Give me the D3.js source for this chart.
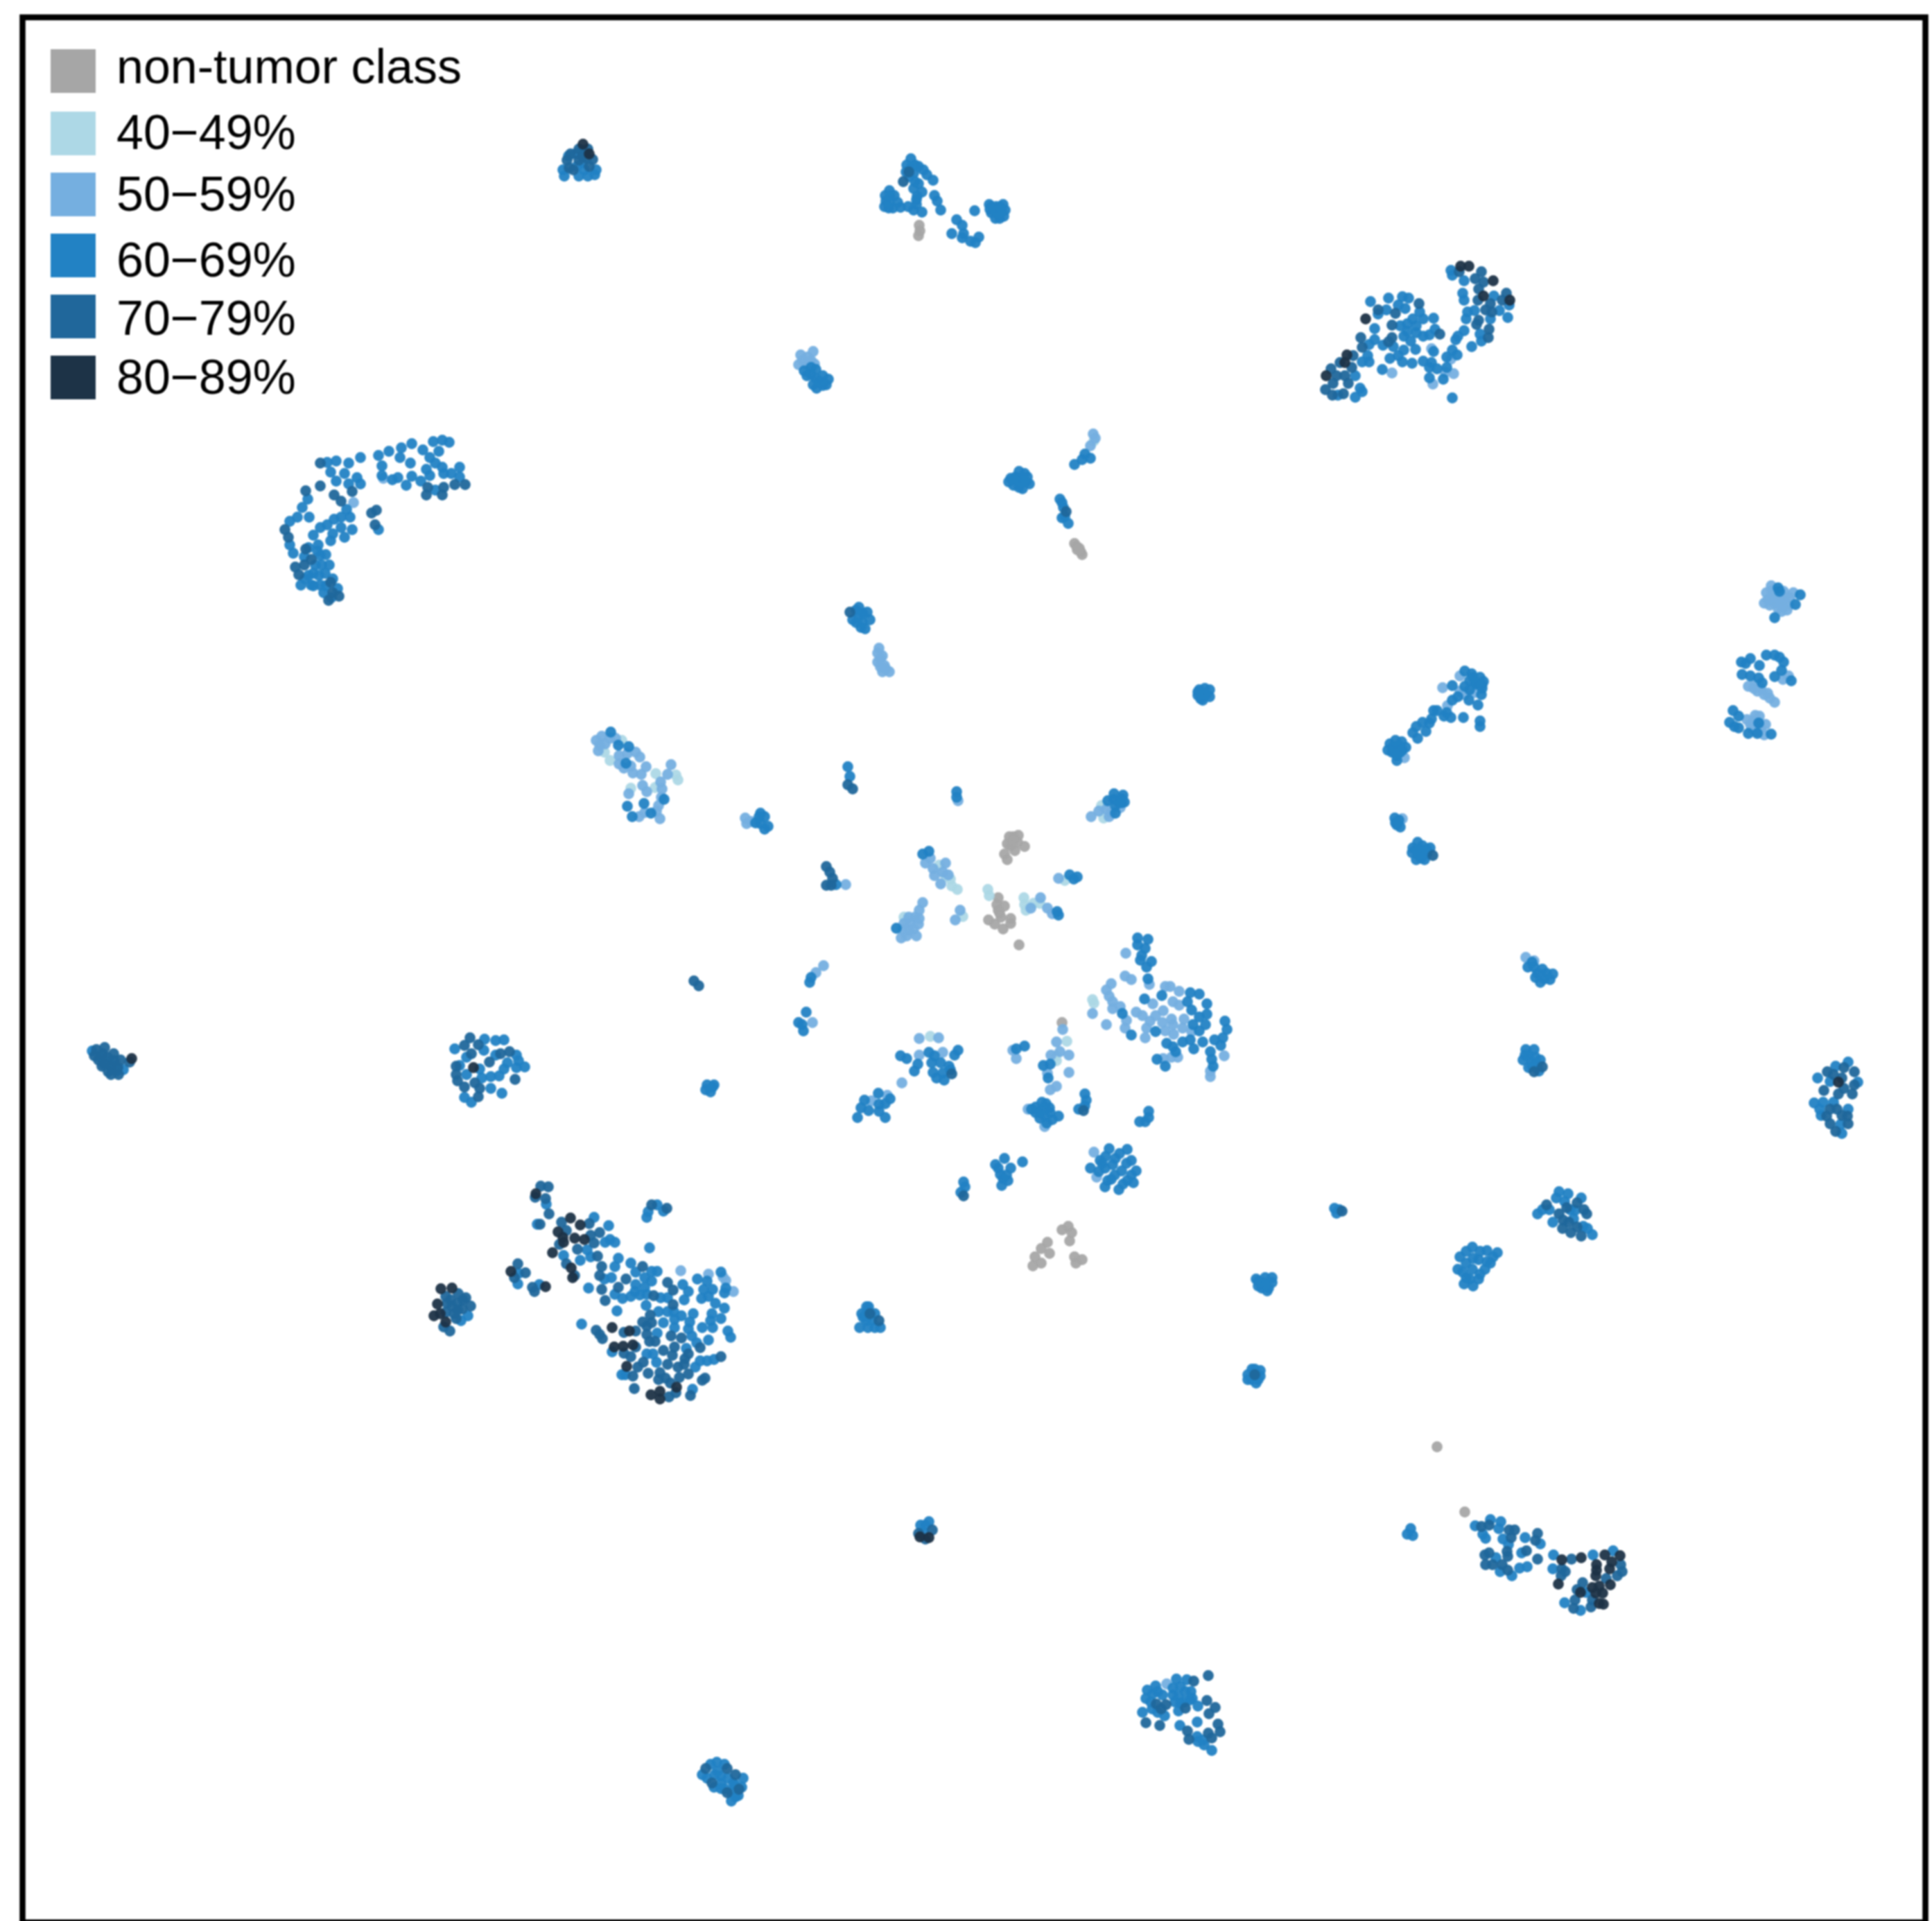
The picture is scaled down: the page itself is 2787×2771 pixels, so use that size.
<!DOCTYPE html>
<html><head><meta charset="utf-8">
<script src="https://cdn.jsdelivr.net/npm/d3@7"></script>
<style>html,body{margin:0;padding:0;background:#fff}svg{display:block}</style>
</head><body><div id="chart"></div>
<script>
const legendLabels=["non-tumor class","40−49%","50−59%","60−69%","70−79%","80−89%"];
const legendColors=["#a6a6a6","#add8e6","#75afe0","#2282c4","#20679b","#1d3347"];

const nonTumor=[[1326,325],[1327,333],[1325,340],[1550,784],[1557,791],[1561,800],[1554,793],[1553,788],[1559,796],
[1462,1207],[1456,1207],[1469,1205],[1462,1213],[1453,1217],[1478,1221],[1464,1227],[1449,1232],[1453,1240],[1458,1220],[1468,1215],
[1440,1295],[1438,1305],[1449,1307],[1440,1313],[1426,1327],[1435,1333],[1447,1340],[1458,1325],[1458,1332],[1444,1323],[1470,1363],[1442,1317],
[1532,1475],[2113,2181],[2073,2087],
[1541,1769],[1532,1774],[1546,1778],[1543,1790],[1511,1792],[1502,1801],[1514,1808],[1493,1813],[1490,1826],[1502,1822],[1550,1813],[1561,1817],[1552,1822]];

const pct40=[[897,1068],[872,1085],[880,1097],[946,1116],[975,1118],[978,1125],[945,1136],[910,1137],
[1589,1162],[1592,1180],[1355,1248],[1371,1268],[1373,1278],[1381,1283],[1364,1263],[1425,1283],[1427,1292],[1536,1270],
[1477,1295],[1478,1305],[1491,1303],[1500,1303],[1480,1313],[1389,1322],[1304,1323],[1576,1442],[1578,1447],[1342,1495],[1539,1502],[1523,1523],[1524,1530],[1578,636]];

const pct50=[[982,1833],[1022,1838],[1047,1847],[1058,1863],[1043,1842],
[2065,503],[2093,518],[2085,537],[2097,539],[2008,538],[2067,554],
[510,725],[553,690],
[1683,2429],[1155,512],[1164,526],[1173,507],[1152,526],[1165,515],[1158,520],[1170,520],[1175,525],[1577,626],[1573,643],[1580,632],
[1266,942],[1273,946],[1276,960],[1266,955],[1283,969],[1273,969],[1270,950],[1278,965],[1270,962],[1268,935],
[2106,975],[2081,992],[2106,997],[2113,1002],[2127,999],[2088,1018],[2026,1093],[2023,1181],
[2555,845],[2548,855],[2557,860],[2545,870],[2553,873],[2567,870],[2573,853],[2582,862],[2580,873],[2570,882],[2563,862],[2587,855],[2560,870],[2572,868],[2550,865],[2565,878],[2575,862],[2556,852],[2578,880],
[2522,990],[2532,988],[2535,997],[2545,1002],[2553,1007],[2560,1013],[2572,980],[2580,975],[2540,993],[2530,993],[2550,1000],
[2520,1038],[2532,1032],[2538,1033],[2527,1050],[2547,1045],[2545,1060],[2525,1045],[2540,1050],[2530,1040],[2533,1055],
[860,1068],[868,1062],[865,1075],[873,1073],[880,1065],[888,1065],[863,1083],[893,1090],[905,1087],[917,1085],[923,1092],[893,1102],[900,1108],[910,1105],[913,1115],[925,1117],[932,1106],[968,1103],[963,1117],[953,1128],[927,1133],[933,1142],[907,1145],[954,1150],[950,1162],[947,1170],[952,1181],[922,1178],[930,1172],[955,1138],[1075,1180],[1077,1188],[1083,1185],
[1382,1155],[1574,1178],[1585,1170],[1600,1178],[1596,1167],[1616,1165],[1603,1172],
[1342,1238],[1335,1245],[1346,1253],[1364,1245],[1348,1263],[1360,1258],[1357,1275],[1368,1262],[1527,1267],
[1501,1295],[1487,1310],[1511,1310],[1518,1318],[1385,1313],[1378,1327],
[1331,1302],[1326,1313],[1320,1323],[1313,1332],[1325,1333],[1302,1340],[1322,1350],[1300,1353],[1311,1342],[1304,1332],[1318,1340],[1311,1323],[1326,1325],[1308,1350],
[1188,1393],[1177,1403],[1172,1475],[1220,1276],
[1624,1375],[1623,1408],[1632,1413],[1658,1420],[1603,1419],[1596,1428],[1681,1423],[1688,1423],[1701,1430],[1600,1437],[1605,1445],[1605,1455],[1616,1452],[1576,1462],[1596,1478],[1663,1448],[1692,1445],[1701,1450],[1639,1460],[1648,1465],[1678,1458],[1667,1465],[1690,1470],[1659,1473],[1677,1475],[1708,1470],[1692,1478],[1654,1483],[1681,1487],[1706,1483],[1719,1488],[1652,1497],[1693,1492],[1623,1483],[1625,1472],[1699,1525],[1690,1525],[1678,1527],[1766,1523],[1746,1545],[1746,1553],
[1326,1498],[1354,1497],[1326,1522],[1360,1518],[1301,1562],[1257,1588],[1280,1580],[1466,1527],[1461,1515],
[1533,1485],[1524,1503],[1516,1522],[1542,1522],[1529,1517],[1542,1547],[1511,1548],[1515,1572],[1524,1567],[1483,1600],[1507,1625],
[1578,1662],[1582,1698],[2201,1381],[2213,1386]];

const pct60=[[788,1737],[775,1766],[857,1756],[878,1768],[880,1788],[873,1792],[887,1792],[847,1803],[852,1813],[837,1818],[813,1811],[748,1837],[747,1852],[778,1853],[935,1748],[933,1756],[948,1738],[957,1747],[937,1800],[892,1815],[887,1827],[910,1822],[917,1835],[948,1834],[940,1834],[882,1843],[872,1845],[930,1843],[940,1848],[917,1853],[916,1863],[930,1857],[887,1867],[898,1873],[910,1870],[923,1868],[933,1867],[953,1872],[963,1872],[932,1883],[890,1891],[950,1892],[849,1858],[839,1910],[957,1908],[948,1923],[985,1853],[993,1863],[987,1875],[1006,1845],[1020,1848],[1015,1860],[1028,1860],[1012,1873],[1022,1870],[1032,1880],[1045,1887],[1047,1858],[1045,1865],[1040,1835],[972,1892],[963,1892],[983,1898],[1000,1895],[973,1903],[995,1907],[973,1915],[993,1917],[1027,1895],[1040,1902],[1025,1905],[1028,1915],[1013,1915],[998,1927],[1005,1937],[1022,1933],[1050,1920],[1054,1929],[990,1945],[933,1953],[942,1953],[947,1965],[902,1983],[897,1983],[883,1950],[1003,1972],[1010,1963],[1020,1963],[1030,1961],[999,2004],
[2093,390],[2095,397],[2112,405],[2110,423],[2112,433],[2155,427],[2177,440],[2163,448],[2175,458],[2150,460],[2117,450],[2127,448],[2115,460],[2112,477],[2103,485],[2100,490],[2135,482],[2137,492],[2123,500],[1977,435],[2003,430],[2023,428],[2032,430],[1988,453],[2000,447],[2017,440],[2027,445],[2048,450],[2038,460],[2053,460],[2068,459],[2030,467],[2043,470],[2020,470],[2030,478],[2043,480],[1983,474],[2025,485],[2035,492],[2053,485],[2062,483],[2070,475],[1983,490],[1975,497],[1995,498],[2010,500],[2042,504],[2025,505],[2017,513],[2005,517],[2023,522],[2037,524],[1973,513],[1975,522],[1965,522],[1994,533],[2053,521],[2065,523],[2068,507],[2062,530],[2073,532],[2095,505],[2102,512],[2087,515],[2087,530],[2062,545],[2082,547],[2095,574],[1955,542],[1962,560],[1955,573],[1930,570],[1965,565],
[546,657],[561,651],[579,646],[594,640],[610,649],[625,637],[638,635],[648,638],[551,672],[551,686],[592,668],[577,660],[633,651],[620,660],[628,668],[615,677],[638,674],[566,692],[574,689],[586,700],[594,687],[607,694],[620,686],[640,683],[651,683],[663,674],[663,688],[628,707],
[472,667],[485,665],[503,668],[520,660],[477,681],[497,683],[515,689],[520,698],[485,694],[503,698],[444,720],[500,735],[546,764],[436,732],[429,746],[418,752],[446,746],[482,749],[492,746],[505,746],[462,761],[472,757],[452,772],[508,764],[492,761],[480,770],[497,775],[477,780],[418,786],[459,786],[423,798],[462,801],[439,803],[464,815],[452,827],[469,827],[434,844],[449,844],[467,855],[487,849],[462,844],
[445,790],[455,815],[440,835],[470,800],[452,845],[460,830],[478,862],[445,830],[470,845],[458,795],[480,835],[475,815],
[2128,2201],[2150,2192],[2165,2195],[2162,2205],[2139,2213],[2143,2219],[2168,2220],[2176,2228],[2200,2218],[2222,2227],[2195,2240],[2158,2247],[2192,2262],[2203,2260],[2181,2273],[2164,2267],[2241,2243],[2327,2237],[2298,2243],[2257,2312],[2240,2263],[2288,2297],[2280,2323],
[656,1513],[699,1499],[715,1501],[727,1500],[698,1515],[715,1522],[745,1522],[748,1530],[757,1539],[745,1540],[732,1533],[727,1542],[720,1552],[708,1553],[695,1555],[692,1542],[673,1525],[663,1537],[673,1550],[708,1570],[724,1577],[680,1590],[670,1583],
[1697,2422],[1712,2423],[1667,2432],[1655,2438],[1653,2450],[1663,2443],[1677,2445],[1692,2435],[1703,2433],[1718,2440],[1700,2447],[1717,2452],[1703,2457],[1728,2461],[1700,2468],[1648,2470],[1662,2465],[1680,2475],[1702,2489],[1727,2484],[1728,2512],[1737,2517],[1748,2525],[1727,2505],[1692,2445],[1670,2440],[1660,2455],[1710,2440],[1695,2455],[1708,2455],[1670,2470],[1720,2450],[1735,2510],
[1314,229],[1308,238],[1320,238],[1307,248],[1318,250],[1332,245],[1337,252],[1346,260],[1320,262],[1318,272],[1330,277],[1323,283],[1322,295],[1318,303],[1330,306],[1283,275],[1277,282],[1290,282],[1283,292],[1276,298],[1288,300],[1299,299],[1348,282],[1352,290],[1357,303],[1406,304],[1380,317],[1388,325],[1373,337],[1390,337],[1388,343],[1400,348],[1412,342],[1407,350],[1427,295],[1447,295],[1437,298],[1430,307],[1450,303],[1442,315],[1448,312],[1437,307],
[1438,305],[1430,298],[1445,305],[1436,315],[1428,302],[1443,298],[1284,282],[1282,300],[1295,292],[1278,290],[1322,288],[1310,298],[1325,265],[1312,255],[1325,240],[1315,240],
[814,254],[835,254],[858,252],[848,254],[839,217],[820,225],[832,240],[843,245],[812,245],[860,245],[840,235],[830,222],
[1164,542],[1177,533],[1187,542],[1173,555],[1187,556],[1195,547],[1177,546],[1170,530],[1170,540],[1182,550],[1160,535],[1178,560],[1192,555],
[1458,690],[1470,680],[1482,688],[1462,700],[1475,705],[1485,698],[1470,693],[1465,688],[1475,695],[1455,695],[1480,695],[1470,703],[1462,692],[1478,683],
[1561,663],[1550,670],[1573,661],[1565,655],[1529,720],[1534,732],[1532,747],[1541,755],[1532,725],[1536,745],
[1239,876],[1251,883],[1230,894],[1244,898],[1255,894],[1239,889],[1248,907],[1235,880],[1245,885],[1235,898],[1242,905],
[1737,1000],[1728,1003],[1745,995],[1735,1010],[1745,1005],[1730,995],[1740,1002],[1732,1008],[1738,993],[1728,998],
[2113,968],[2123,972],[2135,977],[2140,983],[2120,982],[2130,987],[2095,989],[2113,990],[2138,993],[2137,1002],[2103,1005],[2119,1010],[2132,1017],[2095,1010],[2068,1025],[2073,1025],[2083,1033],[2093,1035],[2111,1035],[2087,1028],[2135,1040],[2135,1048],[2065,1037],[2052,1042],[2062,1043],[2043,1048],[2038,1057],[2045,1065],[2057,1055],[2125,977],[2120,995],[2128,985],[2138,988],
[2013,1068],[2022,1070],[2002,1082],[2010,1077],[2028,1078],[2013,1087],[2023,1082],[2015,1097],[2005,1073],[2018,1075],[2020,1085],[2008,1085],[2015,1090],[2013,1187],[2020,1193],[2018,1183],[2015,1190],[2012,1180],
[2045,1215],[2038,1223],[2052,1220],[2063,1223],[2045,1233],[2055,1240],[2037,1230],[2050,1230],[2043,1240],[2058,1232],[2048,1225],[2043,1225],[2050,1238],[2058,1225],
[2565,848],[2567,853],[2597,858],[2590,872],[2560,891],
[2512,955],[2525,950],[2518,957],[2538,960],[2548,945],[2560,945],[2567,948],[2573,955],[2570,967],[2513,973],[2525,975],[2537,978],[2542,985],[2560,976],[2584,982],
[2500,1025],[2508,1033],[2495,1042],[2502,1048],[2508,1050],[2537,1043],[2522,1058],[2535,1058],[2555,1059],
[881,1056],[892,1075],[907,1077],[903,1101],[905,1163],[929,1159],[912,1178],[939,1173],[958,1153],[1095,1178],[1103,1178],[1090,1187],[1097,1188],[1103,1196],[1108,1192],[1097,1173],
[1380,1142],[1380,1150],[1614,1157],[1607,1153],[1618,1152],[1609,1162],[1618,1158],[1609,1173],[1607,1145],[1598,1155],[1620,1147],[1622,1157],
[1206,1276],[1331,1232],[1340,1228],[1543,1262],[1554,1265],[1549,1268],[1525,1315],[1527,1320],[1293,1339],[1168,1417],[1170,1410],[1163,1460],[1157,1478],[1159,1487],[1152,1475],
[1641,1353],[1656,1355],[1641,1363],[1652,1368],[1647,1378],[1661,1387],[1645,1385],[1654,1395],[1656,1412],[1676,1436],[1651,1441],[1717,1432],[1730,1434],[1713,1445],[1741,1448],[1719,1457],[1741,1463],[1730,1467],[1739,1478],[1721,1478],[1730,1487],[1619,1462],[1632,1493],[1667,1488],[1767,1473],[1770,1485],[1764,1497],[1752,1500],[1761,1508],[1717,1500],[1706,1503],[1735,1503],[1722,1513],[1683,1505],[1692,1510],[1696,1517],[1669,1528],[1681,1538],[1746,1517],[1748,1528],[1750,1538],
[1299,1523],[1308,1527],[1340,1518],[1348,1523],[1382,1515],[1377,1522],[1324,1535],[1319,1545],[1344,1533],[1357,1533],[1369,1538],[1346,1547],[1360,1548],[1351,1555],[1362,1558],[1371,1543],
[1267,1577],[1247,1587],[1284,1585],[1242,1598],[1237,1612],[1253,1602],[1268,1593],[1277,1592],[1268,1603],[1277,1612],
[1478,1509],[1466,1513],[1505,1537],[1515,1535],[1512,1555],
[1509,1592],[1494,1597],[1503,1600],[1514,1598],[1494,1605],[1507,1610],[1527,1610],[1518,1615],[1500,1613],[1503,1590],[1488,1600],[1500,1605],[1515,1605],[1510,1620],
[1565,1578],[1567,1587],[1565,1595],[1556,1600],[1657,1603],[1657,1612],[1652,1618],
[1020,1565],[1030,1565],[1025,1575],[1028,1568],[1018,1572],
[133,1516],[151,1529],[165,1538],[178,1543],[158,1532],[145,1525],[168,1545],
[2622,1555],[2648,1538],[2666,1532],[2680,1561],[2617,1591],[2627,1609],[2666,1600],[2657,1635],[2640,1560],[2630,1590],[2625,1600],[2645,1590],[2655,1622],
[2204,1395],[2218,1404],[2231,1404],[2222,1417],[2236,1413],[2213,1395],[2210,1388],[2225,1398],[2228,1412],[2215,1410],[2240,1405],
[2201,1514],[2213,1514],[2197,1529],[2209,1532],[2222,1529],[2205,1522],[2215,1525],[2205,1540],[2218,1535],[2210,1538],[2200,1522],[2220,1545],
[2249,1719],[2281,1728],[2257,1733],[2218,1751],[2272,1746],[2240,1763],[2284,1769],[2297,1781],[2245,1728],[2262,1722],[2235,1745],[2225,1745],[2265,1745],[2270,1758],[2290,1772],
[2145,1804],[2124,1799],[2106,1813],[2133,1817],[2154,1813],[2103,1831],[2124,1831],[2142,1831],[2115,1843],[2133,1845],[2115,1805],[2135,1805],[2115,1822],[2125,1815],[2145,1820],[2110,1835],[2135,1838],[2120,1845],[2125,1855],[2112,1852],[2150,1822],[2160,1807],
[1925,1743],[1932,1745],[1928,1750],[1815,1848],[1825,1843],[1835,1850],[1820,1858],[1830,1858],[1822,1850],[1825,1852],[1815,1855],[1835,1843],[1828,1862],[1812,1845],
[1800,1983],[1810,1975],[1818,1977],[1805,1990],[1815,1990],[1808,1985],[1818,1985],[1812,1995],[1800,1990],[1806,1975],
[1243,1895],[1253,1885],[1262,1895],[1250,1905],[1240,1915],[1262,1915],[1250,1895],[1258,1905],[1245,1900],[1252,1915],[1270,1915],[1250,1885],
[1335,2200],[1340,2195],[1332,2210],[1328,2200],[2035,2205],[2030,2213],[2038,2215],
[1034,2542],[1013,2560],[1031,2560],[1058,2572],[1040,2572],[1061,2592],[1072,2565],[1025,2545],[1035,2555],[1045,2545],[1020,2565],[1040,2562],[1050,2565],[1060,2575],[1045,2580],[1055,2585],[1070,2578],[1030,2578],[1040,2580],[1065,2590],[1055,2598],
[675,1898],[665,1905],
[1600,1657],[1626,1658],[1587,1674],[1609,1671],[1632,1674],[1573,1685],[1594,1685],[1618,1689],[1639,1689],[1603,1701],[1626,1703],[1594,1712],[1614,1716],[1635,1706],[1595,1668],[1615,1664],[1585,1690],[1605,1680],[1625,1678],[1632,1695],[1608,1695],[1598,1703],[1620,1708],[1590,1678],
[1644,1618],
[1436,1680],[1449,1671],[1458,1685],[1443,1694],[1454,1703],[1445,1710],[1475,1676],[1440,1685],[1452,1695],[1447,1700],[1390,1705],[1386,1720],[1392,1712],
[1223,1106],[1226,1120]];

const pct70=[[780,1711],[791,1712],[772,1727],[787,1729],[792,1751],[779,1766],[810,1763],[817,1775],[807,1795],[833,1802],[850,1765],[852,1782],[857,1793],[865,1778],[862,1812],[817,1823],[829,1840],[747,1823],[758,1836],[742,1843],[768,1857],[771,1863],[940,1738],[962,1743],[868,1827],[865,1840],[868,1860],[873,1876],[892,1857],[903,1845],[927,1827],[963,1850],[971,1861],[943,1869],[971,1882],[938,1897],[927,1907],[933,1913],[940,1908],[917,1920],[900,1922],[933,1925],[945,1935],[937,1935],[968,1927],[983,1930],[865,1925],[860,1919],[869,1931],[917,1943],[900,1952],[910,1957],[957,1948],[973,1943],[970,1955],[993,1953],[988,1960],[1010,1944],[978,1972],[987,1968],[963,1968],[928,1965],[920,1972],[913,1985],[915,2003],[935,1981],[952,1980],[950,1990],[960,1988],[967,1995],[980,1987],[993,1982],[975,2009],[965,2015],[996,2013],[1017,1988],[1013,1991],[1040,1957],
[2105,392],[2128,402],[2137,392],[2140,407],[2133,417],[2132,433],[2150,438],[2143,447],[2152,450],[2167,433],[2173,423],[2133,462],[2130,468],[2148,475],[2147,487],[2047,438],[2013,452],[2008,469],[2077,482],[2008,487],[2003,493],[1963,487],[1965,501],[1952,513],[1950,530],[1933,523],[1920,532],[1928,542],[1940,542],[1923,553],[1945,553],[1912,562],[1922,570],[1938,568],[1988,447],
[671,699],[656,699],[617,703],[615,714],[640,703],[638,714],[462,668],[508,709],[441,708],[462,701],[482,714],[492,723],[543,736],[536,740],[541,757],[411,764],[416,775],[441,792],[449,807],[426,818],[439,815],[431,829],[477,840],[474,866],[489,860],[480,855],
[2137,2202],[2148,2200],[2177,2207],[2185,2207],[2180,2218],[2218,2212],[2215,2222],[2174,2238],[2175,2245],[2202,2237],[2218,2249],[2142,2243],[2148,2240],[2143,2257],[2153,2257],[2167,2257],[2175,2265],[2267,2249],[2253,2263],[2258,2267],[2252,2273],[2338,2257],[2340,2267],[2333,2273],[2317,2277],[2283,2283],[2275,2293],[2297,2308],[2295,2318],[2272,2308],[2270,2320],
[678,1497],[670,1508],[690,1507],[680,1520],[735,1517],[722,1520],[706,1532],[658,1538],[658,1550],[660,1559],[670,1568],[685,1562],[692,1570],[690,1582],[743,1557],
[1743,2417],[1722,2425],[1668,2458],[1682,2459],[1675,2465],[1741,2453],[1753,2463],[1744,2472],[1653,2485],[1673,2489],[1713,2497],[1715,2509],[1743,2500],[1757,2487],[1760,2498],[1748,2507],[1710,2464],
[1303,262],[1311,248],
[823,222],[835,231],[850,240],[827,245],[818,231],[821,242],[846,228],[835,215],[848,215],[855,230],[840,225],
[1538,738],[1192,1250],[1197,1258],[1201,1267],[1199,1277],[1192,1277],[1226,883],
[2067,1234],[1373,1549],[1563,1602],[1001,1415],[1008,1422],
[139,1514],[151,1511],[164,1520],[142,1529],[160,1539],[174,1529],[156,1546],[171,1550],[187,1532],[148,1520],[155,1525],[147,1538],[165,1530],[170,1540],[150,1535],[160,1550],[136,1523],
[2636,1546],[2657,1555],[2675,1546],[2631,1573],[2652,1578],[2672,1578],[2640,1600],[2657,1609],[2640,1621],[2666,1621],[2648,1632],[2645,1550],[2660,1570],[2635,1610],[2650,1600],[2665,1610],[2675,1565],[2660,1540],
[2225,1539],[2213,1546],
[2231,1738],[2249,1751],[2289,1751],[2263,1763],[2266,1778],[2281,1783],[2254,1772],[2260,1742],[2275,1735],[2285,1745],[2255,1760],[2275,1770],
[1936,1747],[1810,1983],[1268,1905],[1255,1895],
[1325,2212],[1335,2220],[1345,2207],
[1018,2551],[1049,2551],[1061,2560],[1027,2572],[1049,2586],[1066,2581],
[643,1870],[661,1866],[672,1872],[679,1884],[652,1884],[667,1888],[643,1893],[658,1902],[649,1920],[640,1914],[650,1875],[660,1880],[655,1895],[645,1880],[668,1875],[660,1890],
[1390,1725],[1223,1132],[1230,1138]];

const pct80=[[773,1722],[823,1757],[837,1767],[805,1777],[812,1785],[813,1792],[829,1786],[843,1788],[797,1807],[824,1829],[826,1843],[737,1834],[787,1856],[883,1915],[908,1920],[886,1943],[899,1942],[913,1940],[904,1971],[939,2012],[952,2007],[952,2018],[976,2001],
[2119,384],[2107,384],[2154,405],[2140,427],[2178,433],[1970,460],[1943,512],[1940,523],[1913,542],
[2253,2250],[2281,2247],[2315,2243],[2337,2244],[2325,2253],[2303,2257],[2303,2265],[2322,2263],[2302,2273],[2248,2285],[2323,2286],[2297,2290],[2307,2288],[2280,2297],[2302,2298],[2312,2298],[2307,2313],[2313,2314],
[683,1540],[841,208],[850,222],[190,1527],
[2652,1561],
[1327,2217],[1340,2218],
[636,1859],[652,1858],[631,1881],[635,1895],[626,1898],[643,1907]];

const seriesPoints=[nonTumor,pct40,pct50,pct60,pct70,pct80];

const W=2787,H=2771;
const x=d3.scaleLinear().domain([0,2787]).range([0,W]);
const y=d3.scaleLinear().domain([0,2771]).range([0,H]);
const color=d3.scaleOrdinal().domain(legendLabels).range(legendColors);
const swatchTop=d3.scaleOrdinal().domain(legendLabels).range([71,161,249,337,425,513]);
const baseline=d3.scaleOrdinal().domain(legendLabels).range([120,215,304,399,483,568]);

const svg=d3.select("#chart").append("svg").attr("width",W).attr("height",H).attr("viewBox",`0 0 ${W} ${H}`);
svg.append("rect").attr("width",W).attr("height",H).attr("fill","#fff");

const root=svg.append("g").style("filter","blur(1px)");
seriesPoints.forEach((pts,i)=>{
  root.append("g").selectAll("circle").data(pts).join("circle")
    .attr("cx",d=>x(d[0])).attr("cy",d=>y(d[1])).attr("r",7.9)
    .attr("fill",color(legendLabels[i])).attr("fill-opacity",0.95);
});

root.append("rect").attr("x",32.5).attr("y",25).attr("width",2745).attr("height",2748)
  .attr("fill","none").attr("stroke","#000").attr("stroke-width",8.5);

const lg=root.append("g").selectAll("g").data(legendLabels).join("g");
lg.append("rect").attr("x",73).attr("y",d=>swatchTop(d)).attr("width",65).attr("height",63).attr("fill",d=>color(d));
lg.append("text").attr("x",168).attr("y",d=>baseline(d))
  .attr("font-family","'Liberation Sans',Arial,sans-serif").attr("font-size",70).attr("fill","#000").text(d=>d);
</script></body></html>
